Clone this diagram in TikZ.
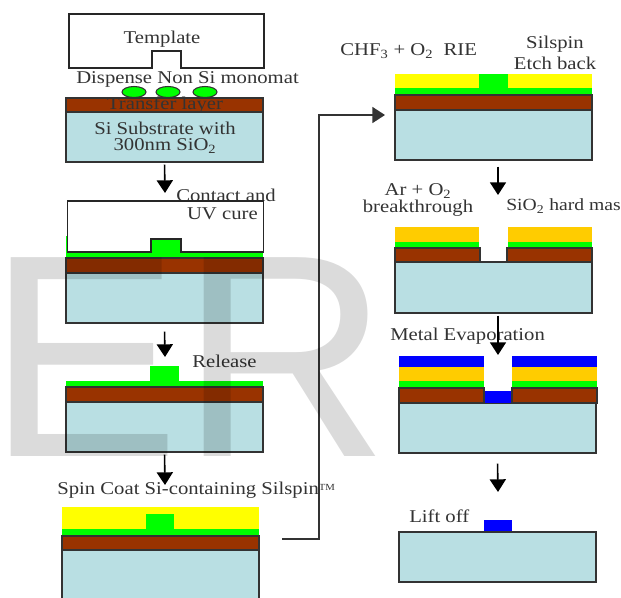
\documentclass[tikz,border=0pt]{standalone}
\usepackage{fontspec}
\setmainfont[FakeStretch=1.15]{Liberation Serif}
\newfontfamily\wmfont{Liberation Sans}
\usetikzlibrary{arrows.meta,positioning,calc}

\begin{document}
\begin{tikzpicture}[
  x=.75pt, y=-.75pt,
  >={Triangle[length=9.5pt, width=12pt]},
  lbl/.style={font=\fontsize{13.5}{15}\selectfont, text=black!80, inner sep=0pt},
  edge/.style={draw=black!80, line width=1.2pt},
  subst/.style={edge, fill=subcol, anchor=north west, inner sep=0pt, outer sep=0pt, align=center,
                minimum width=147.75pt, minimum height=37.5pt},
  transfer/.style={edge, fill=brown1},
  cure/.style={fill=green1},
  silspin/.style={fill=yellow1},
  hardm/.style={fill=orange1},
  metal/.style={fill=blue1},
  tmpl/.style={draw=black!85, line width=1.2pt, fill=white},
  flow/.style={->, line width=1.2pt, black, shorten <=2pt},
  wmark/.style={font=\wmfont\fontsize{216.8}{220}\selectfont, text=black, text opacity=.14, inner sep=0pt, anchor=base west},
]
\definecolor{subcol}{HTML}{B9DFE3}
\definecolor{brown1}{HTML}{993300}
\definecolor{green1}{HTML}{00FF00}
\definecolor{yellow1}{HTML}{FFFF00}
\definecolor{orange1}{HTML}{FFCC00}
\definecolor{blue1}{HTML}{0000FF}

\clip (0,0) rectangle (621,597);
\fill[white] (0,0) rectangle (621,597);

% ---- dispense --------------------------------------------------------------
\draw[tmpl] (69,14) -- (264,14) -- (264,68) -- (181,68) -- (181,51) -- (152,51) -- (152,68) -- (69,68) -- cycle;
\node[lbl] (tmplA) at (162,39) {Template};
\node[lbl, anchor=west] (dispA) at (76,79) {Dispense Non Si monomat};
\foreach \cx in {134,168,205}
  \draw[cure, draw=black!80, line width=.8pt] (\cx,92) ellipse [x radius=12, y radius=5.5];
\node[subst] (subA) at (66,112) {};
\draw[transfer] (66,98) rectangle (263,112);
\node[lbl] (layA) at (165,105.5) {Transfer layer};
\node[lbl] (subtxtA) at (165,128) {Si Substrate with};
\node[lbl] (subtxtB) at (165,146) {300nm SiO\textsubscript{2}};

% ---- contact and cure --------------------------------------------------------
\coordinate (inB) at (165,193);
\node[lbl, anchor=west] (contactB) at (176,195) {Contact and};
\node[lbl, anchor=east] (cureB) at (258,214) {UV cure};
\fill[cure] (66,253) rectangle (263,258);
\fill[cure] (66,236) rectangle (67.5,253);
\fill[cure] (151,239) rectangle (181,258);
\draw[black!85, line width=1.2pt] (67.5,252) -- (67.5,201) -- (263.5,201) -- (263.5,252) -- (181,252) -- (181,239) -- (151,239) -- (151,252) -- cycle;
\fill[cure] (151.6,239.6) rectangle (180.4,258);
\node[subst] (subB) at (66,273) {};
\draw[transfer] (66,258) rectangle (263,273);

% ---- release -----------------------------------------------------------------
\coordinate (inC) at (165,357);
\node[lbl, anchor=west] (relC) at (192,361) {Release};
\fill[cure] (66,381) rectangle (263,387);
\fill[cure] (150,366) rectangle (179,381);
\node[subst] (subC) at (66,402) {};
\draw[transfer] (66,387) rectangle (263,402);

% ---- spin coat ---------------------------------------------------------------
\coordinate (inD) at (165,485);
\node[lbl, anchor=west] (spinD) at (57,490) {Spin Coat Si-containing Silspin\raisebox{3pt}{\fontsize{7}{8}\selectfont TM}};
\fill[silspin] (62,507) rectangle (259,529);
\fill[cure] (62,529) rectangle (259,536);
\fill[cure] (146,514) rectangle (174,529);
\node[subst] (subD) at (62,550) {};
\draw[transfer] (62,536) rectangle (259,550);

% ---- etch back ---------------------------------------------------------------
\node[lbl, anchor=west] (rieE) at (340,51) {CHF\textsubscript{3} + O\textsubscript{2}\ \ RIE};
\node[lbl] (silE) at (555,44) {Silspin};
\node[lbl] (etchE) at (555,63) {Etch back};
\fill[silspin] (395,74) rectangle (592,88);
\fill[cure] (395,88) rectangle (592,95);
\fill[cure] (479,74) rectangle (508,88);
\node[subst] (subE) at (395,110) {};
\draw[transfer] (395,95) rectangle (592,110);

% ---- breakthrough ------------------------------------------------------------
\coordinate (inF) at (498,195);
\node[lbl] (arF) at (418,191) {Ar + O\textsubscript{2}};
\node[lbl] (breakF) at (418,208) {breakthrough};
\node[lbl, anchor=west, font=\fontsize{12.8}{15}\selectfont] (maskF) at (506,206) {SiO\textsubscript{2} hard mas};
\fill[hardm] (395,227) rectangle (479,242);
\fill[hardm] (508,227) rectangle (592,242);
\fill[cure] (395,242) rectangle (479,248);
\fill[cure] (508,242) rectangle (592,248);
\node[subst, minimum height=38.25pt] (subF) at (395,262) {};
\draw[transfer] (395,248) rectangle (480,262);
\draw[transfer] (507,248) rectangle (592,262);

% ---- evaporation -------------------------------------------------------------
\coordinate (inG) at (498,355);
\node[lbl, anchor=west] (metG) at (390,336) {Metal Evaporation};
\fill[metal] (399,356) rectangle (484,367);
\fill[metal] (512,356) rectangle (597,367);
\fill[hardm] (399,367) rectangle (484,381);
\fill[hardm] (512,367) rectangle (597,381);
\fill[cure] (399,381) rectangle (484,388);
\fill[cure] (512,381) rectangle (597,388);
\node[subst] (subG) at (399,403) {};
\fill[metal] (484,391) rectangle (512,403);
\draw[transfer] (399,388) rectangle (484,403);
\draw[transfer] (512,388) rectangle (597,403);

% ---- lift off ----------------------------------------------------------------
\coordinate (inH) at (498,492);
\node[lbl, anchor=west] (liftH) at (409,516) {Lift off};
\fill[metal] (484,520) rectangle (512,532);
\node[subst] (subH) at (399,532) {};

% ---- arrows ------------------------------------------------------------------
\coordinate (outD) at (282,539);
\coordinate (turnD) at (319,115);
\coordinate (inE) at (385,115);
\draw[flow] (subA.south) -- (inB);
\draw[flow] ($(subB.south)+(0,6)$) -- (inC);
\draw[flow] (subC.south) -- (inD);
\draw[flow, draw=black!80, shorten <=0pt] (outD) -| (turnD) -- (inE);
\draw[flow] ($(subE.south)+(4.5,4)$) -- (inF);
\draw[flow] ($(subF.south)+(4.5,0)$) -- (inG);
\draw[flow] ($(subG.south)+(0,8)$) -- (inH);

% ---- watermark ---------------------------------------------------------------
\node[wmark] (wm) at (-12.5,456) {ER};

\end{tikzpicture}
\end{document}
